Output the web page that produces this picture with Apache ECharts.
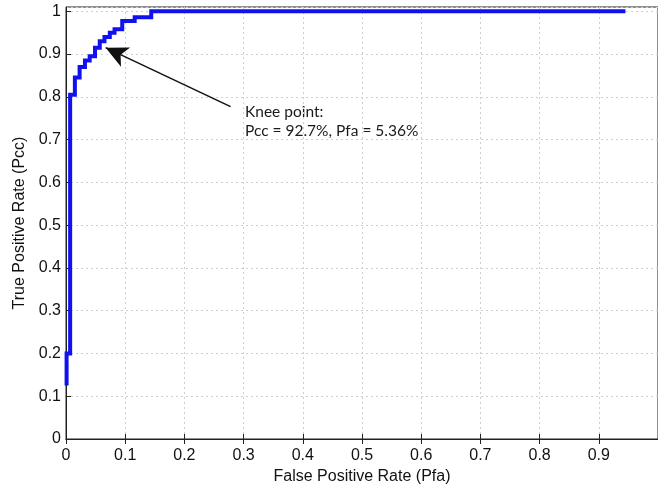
<!DOCTYPE html>
<html>
<head>
<meta charset="utf-8">
<script src="https://cdn.jsdelivr.net/npm/echarts@6/dist/echarts.min.js"></script>
<style>
html,body{margin:0;padding:0;background:#fff;overflow:hidden;}
#c{width:658px;height:490px;}
</style>
</head>
<body>
<div id="c"></div>
<script>
// ROC curve (staircase)
const fpr = [0.001, 0.001, 0.007, 0.007, 0.015, 0.015, 0.023, 0.023, 0.032, 0.032, 0.040, 0.040, 0.049, 0.049, 0.057, 0.057, 0.065, 0.065, 0.074, 0.074, 0.082, 0.082, 0.095, 0.095, 0.116, 0.116, 0.144, 0.144, 0.945];
const tpr = [0.125, 0.2, 0.2, 0.805, 0.805, 0.845, 0.845, 0.87, 0.87, 0.885, 0.885, 0.895, 0.895, 0.915, 0.915, 0.93, 0.93, 0.94, 0.94, 0.95, 0.95, 0.958, 0.958, 0.977, 0.977, 0.986, 0.986, 1.0, 1.0];
const xTicks = [0, 0.1, 0.2, 0.3, 0.4, 0.5, 0.6, 0.7, 0.8, 0.9, 1];
const yTicks = [0, 0.1, 0.2, 0.3, 0.4, 0.5, 0.6, 0.7, 0.8, 0.9, 1];
const xName = 'False Positive Rate (Pfa)';
const yName = 'True Positive Rate (Pcc)';
// annotation arrow (data coords): tail -> head
const arrowFrom = [0.278, 0.777];
const arrowTo = [0.067, 0.915];
const noteLines = ['Knee point:', 'Pcc = 92.7%, Pfa = 5.36%'];

const curve = fpr.map((x, i) => [x, tpr[i]]);
const fmt = v => (v === 0 ? '0' : (v === 1 ? '1' : v.toFixed(1)));
const font = 'Liberation Sans, Arial, sans-serif';

const chart = echarts.init(document.getElementById('c'), null, {renderer: 'canvas'});
const gridLine = {show: true, lineStyle: {color: '#cfcfcf', type: [2, 3], width: 1}};
chart.setOption({
  animation: false,
  backgroundColor: '#fff',
  grid: {left: 66, width: 597, top: 7, height: 433, show: true, borderColor: '#222', borderWidth: 1},
  xAxis: [{
    type: 'value', min: xTicks[0], max: xTicks[xTicks.length - 1], interval: 0.1,
    name: xName, nameLocation: 'middle', nameGap: 30,
    nameTextStyle: {fontFamily: font, fontSize: 16, color: '#111'},
    axisLine: {show: true, onZero: false, lineStyle: {color: '#222', width: 1}},
    axisTick: {show: true, inside: true, length: 5, lineStyle: {color: '#222'}},
    axisLabel: {fontFamily: font, fontSize: 16, color: '#111', margin: 9, formatter: fmt, showMaxLabel: false},
    splitLine: gridLine
  }, {
    type: 'value', position: 'top', min: xTicks[0], max: xTicks[xTicks.length - 1], interval: 0.1,
    axisLine: {show: true, lineStyle: {color: '#222', width: 1}},
    axisTick: {show: true, inside: true, length: 5, lineStyle: {color: '#222'}},
    axisLabel: {show: false}, splitLine: {show: false}
  }],
  yAxis: [{
    type: 'value', min: yTicks[0], max: 1.01, interval: 0.1,
    name: yName, nameLocation: 'middle', nameGap: 38,
    nameTextStyle: {fontFamily: font, fontSize: 16, color: '#111'},
    axisLine: {show: true, onZero: false, lineStyle: {color: '#222', width: 1}},
    axisTick: {show: true, inside: true, length: 5, lineStyle: {color: '#222'}},
    axisLabel: {fontFamily: font, fontSize: 16, color: '#111', margin: 5, formatter: fmt, showMaxLabel: false},
    splitLine: gridLine
  }],
  series: [{
    type: 'line',
    data: curve,
    showSymbol: false,
    clip: false,
    lineStyle: {color: '#1010f0', width: 4, join: 'miter'},
    itemStyle: {color: '#1010f0'},
    markLine: {
      silent: true,
      symbol: ['none', 'arrow'],
      symbolSize: [16, 22],
      label: {show: false},
      lineStyle: {color: '#111', width: 1.5, type: 'solid'},
      data: [[{coord: arrowFrom}, {coord: arrowTo}]]
    }
  }],
  graphic: [{
    type: 'text', left: 245, top: 102,
    style: {text: noteLines.join('\n'), font: '15.5px Lato, "Open Sans", sans-serif', fill: '#1a1a1a', lineHeight: 19}
  }]
});
</script>
</body>
</html>
